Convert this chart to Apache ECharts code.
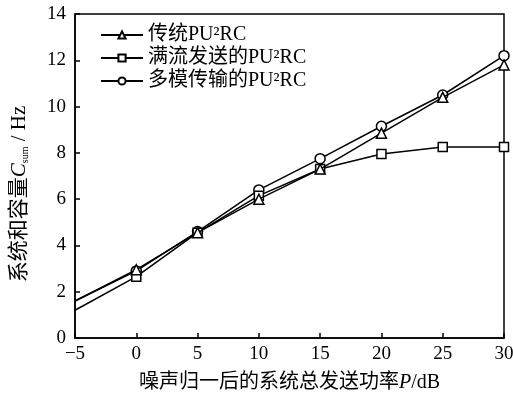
<!DOCTYPE html>
<html><head><meta charset="utf-8">
<script src="https://cdn.jsdelivr.net/npm/echarts@6/dist/echarts.min.js"></script>
<style>html,body{margin:0;padding:0;background:#fff}#c{width:513px;height:393px}</style>
</head><body><div id="c"></div>
<script>
var xValues = [-5, 0, 5, 10, 15, 20, 25, 30];
var traditional = [1.6, 2.95, 4.55, 6.0, 7.3, 8.85, 10.4, 11.8];
var fullFlow = [1.2, 2.65, 4.55, 6.15, 7.3, 7.95, 8.25, 8.25];
var multiMode = [1.6, 2.9, 4.6, 6.4, 7.75, 9.15, 10.5, 12.2];
var seriesNames = ['传统PU²RC', '满流发送的PU²RC', '多模传输的PU²RC'];
var xTicks = [-5, 0, 5, 10, 15, 20, 25, 30];
var yTicks = [0, 2, 4, 6, 8, 10, 12, 14];

var FONT = '"Liberation Serif", "Times New Roman", "Noto Sans CJK SC", serif';
function mk(vals) {
  return xValues.map(function (x, i) {
    var d = {value: [x, vals[i]]};
    if (x < 0) d.symbol = 'none';
    return d;
  });
}
var symbols = ['triangle', 'rect', 'circle'];
var sizes = [10, 9, 10];
var datas = [traditional, fullFlow, multiMode];
var series = datas.map(function (d, i) {
  return {
    name: seriesNames[i], type: 'line', data: mk(d),
    symbol: symbols[i], symbolSize: sizes[i], showAllSymbol: true,
    lineStyle: {color: '#000', width: 1.5},
    itemStyle: {color: '#fff', borderColor: '#000', borderWidth: 1.5},
    z: 3 - i
  };
});
var chart = echarts.init(document.getElementById('c'));
chart.setOption({
  animation: false,
  backgroundColor: '#fff',
  grid: {left: 75, right: 9, top: 14, bottom: 55, outerBoundsMode: 'none', containLabel: false,
    show: true, borderColor: '#000', borderWidth: 1.5, backgroundColor: 'transparent'},
  legend: {
    orient: 'vertical', left: 95, top: 20, itemWidth: 42, itemHeight: 9, itemGap: 3,
    data: seriesNames,
    textStyle: {fontFamily: FONT, fontSize: 20, color: '#000', padding: [0, 0, 0, 0]}
  },
  xAxis: {
    type: 'value', min: -5, max: 30, interval: 5,
    axisLine: {onZero: false, lineStyle: {color: '#000', width: 1.5}},
    axisTick: {inside: true, length: 5, lineStyle: {color: '#000', width: 1.5}},
    splitLine: {show: false},
    axisLabel: {color: '#000', fontFamily: FONT, fontSize: 19, margin: 7,
      formatter: function (v) { return String(v).replace('-', '\u2212'); }},
    name: '{a|噪声归一后的系统总发送功率}{i|P}{a|/dB}',
    nameLocation: 'middle', nameGap: 35,
    nameTextStyle: {rich: {
      a: {fontFamily: FONT, fontSize: 20, color: '#000'},
      i: {fontFamily: FONT, fontSize: 20, color: '#000', fontStyle: 'italic'}
    }}
  },
  yAxis: {
    type: 'value', min: 0, max: 14, interval: 2,
    axisLine: {onZero: false, lineStyle: {color: '#000', width: 1.5}},
    axisTick: {inside: true, length: 5, lineStyle: {color: '#000', width: 1.5}},
    splitLine: {show: false},
    axisLabel: {color: '#000', fontFamily: FONT, fontSize: 19, margin: 9},
    name: '{a|系统和容量}{i|C}{s|sum}{a| / Hz}',
    nameLocation: 'middle', nameGap: 45, nameRotate: 90,
    nameTextStyle: {padding: [0, 36, 0, 0], rich: {
      a: {fontFamily: FONT, fontSize: 21, color: '#000'},
      i: {fontFamily: FONT, fontSize: 21, color: '#000', fontStyle: 'italic'},
      s: {fontFamily: FONT, fontSize: 10, color: '#000', verticalAlign: 'bottom', padding: [8, 0, 0, 0]}
    }}
  },
  series: series
});
</script></body></html>
